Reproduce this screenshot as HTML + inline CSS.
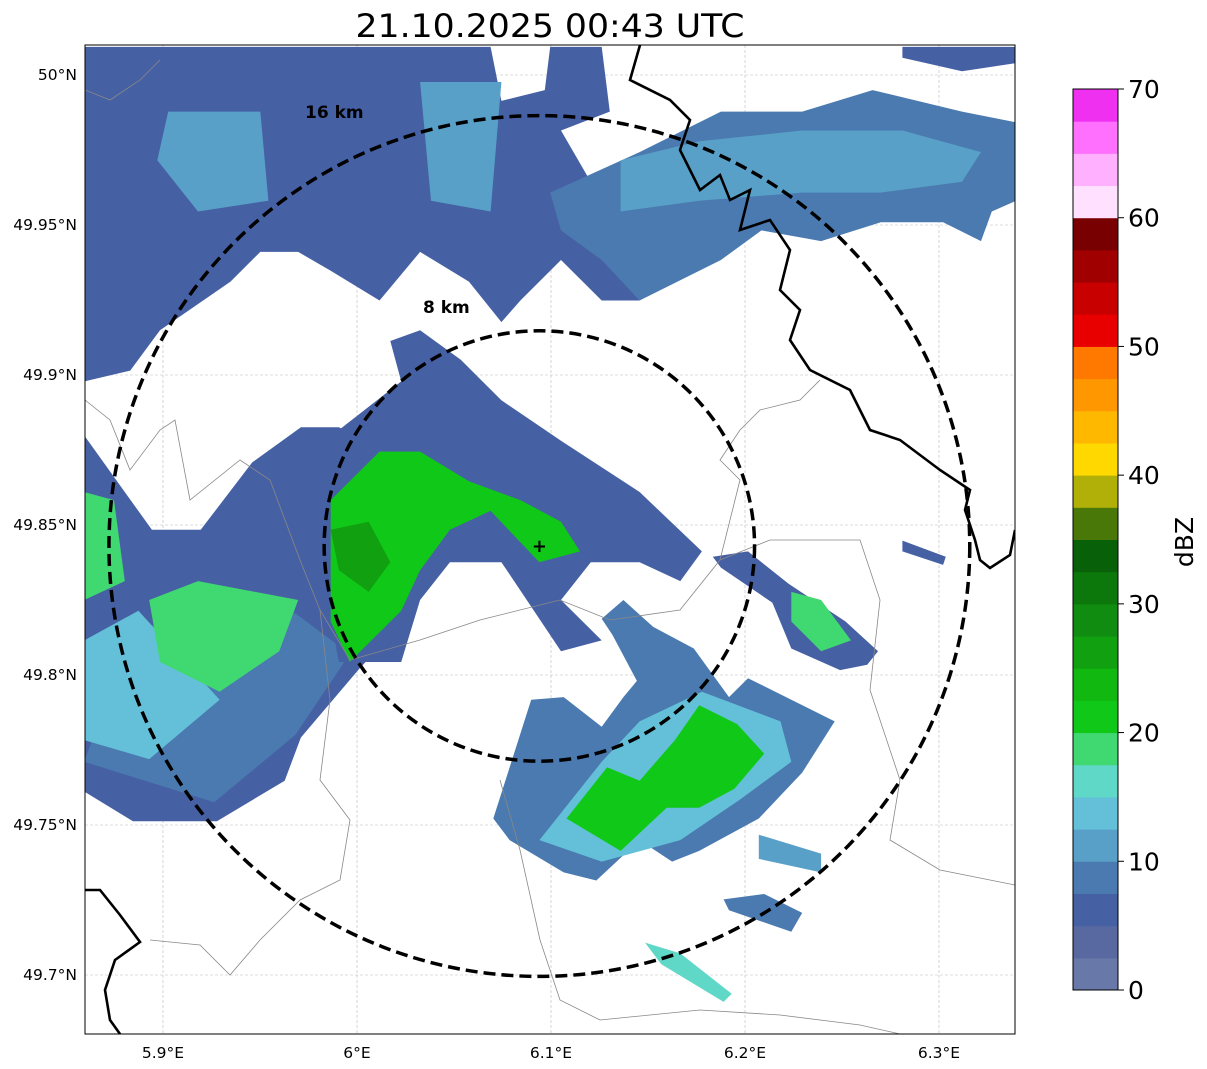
<!DOCTYPE html>
<html><head><meta charset="utf-8"><style>
body{margin:0;background:#fff;font-family:"DejaVu Sans","Liberation Sans",sans-serif}
svg{display:block}
</style></head><body>
<svg id="fig" width="1207" height="1069" xmlns="http://www.w3.org/2000/svg">
<text x="550" y="37" font-size="32" text-anchor="middle" textLength="389" lengthAdjust="spacingAndGlyphs">21.10.2025 00:43 UTC</text>
<defs><clipPath id="mapclip"><rect x="85" y="45" width="930" height="989"/></clipPath></defs>
<g id="map" clip-path="url(#mapclip)">
<g id="grid"></g>
<g id="echoes"></g>
<g id="borders" fill="none">
<path d="M85,400 L110,420 L130,470 L160,430 L175,420 L190,500 L240,460 L270,480 L300,560 L320,610 L350,660 L420,640 L480,620 L560,600 L610,620 L680,610 L720,560 L770,540" stroke="#888" stroke-width="0.8"/>
<path d="M720,560 L740,480 L720,460 L740,430 L760,410 L800,400 L820,380" stroke="#888" stroke-width="0.8"/>
<path d="M320,610 L330,700 L320,780 L350,820 L340,880 L300,900 L260,940 L230,975 L200,945 L150,940" stroke="#888" stroke-width="0.8"/>
<path d="M500,780 L520,850 L540,940 L560,1000 L600,1020 L700,1010 L780,1015 L860,1025 L900,1034" stroke="#888" stroke-width="0.8"/>
<path d="M770,540 L860,540 L880,600 L870,690 L900,780 L890,840 L940,870 L1015,885" stroke="#888" stroke-width="0.8"/>
<path d="M85,90 L110,100 L140,80 L160,60" stroke="#888" stroke-width="0.8"/>
<path d="M640,45 L630,80 L670,100 L690,120 L680,150 L700,190 L720,175 L730,200 L750,190 L740,230 L770,220 L790,250 L780,290 L800,310 L790,340 L810,370 L850,390 L870,430 L900,440 L940,470 L970,490 L965,510 L975,540 L980,560 L990,568 L1010,555 L1015,530" stroke="#000" stroke-width="2.6"/>
<path d="M85,890 L100,890 L120,915 L140,942 L115,960 L105,990 L110,1020 L120,1034" stroke="#000" stroke-width="2.6"/>
</g>
<g id="rings"></g>
</g>
<rect x="85" y="45" width="930" height="989" fill="none" stroke="#000" stroke-width="1"/>
<g id="axes" font-size="15.5"></g>
<g id="cbar"></g>
<text transform="translate(1193,542) rotate(-90)" font-size="25" text-anchor="middle">dBZ</text>
</svg>
<script>
const NS="http://www.w3.org/2000/svg";
// data
const lonTicks=[5.9,6.0,6.1,6.2,6.3];
const lonLabels=["5.9°E","6°E","6.1°E","6.2°E","6.3°E"];
const latTicks=[50.0,49.95,49.9,49.85,49.8,49.75,49.7];
const latLabels=["50°N","49.95°N","49.9°N","49.85°N","49.8°N","49.75°N","49.7°N"];
const cbTicks=[0,10,20,30,40,50,60,70];
const cbColors=["#6878a8","#5868a0","#4660a4","#4a7ab0","#58a0c8","#64c0d8","#60d8c8","#40d870","#10c818","#10b810","#10a010","#108c10","#0c780c","#086008","#4a7808","#b0b008","#ffd800","#ffb800","#ff9800","#ff7800","#e80000","#c80000","#a00000","#780000","#ffe0ff","#ffb0ff","#ff70ff","#f030f0"];
const radarLon=6.094, radarLat=49.843;
const ringKm=[8,16];
// echo regions: vertices as [km east, km north] of the radar, with reflectivity (dBZ)
const echoDbz=[6,6,8,6,8,6,11,11,12,13,19,19,20,27,8,7,13,21,18,10,8,15,6];
const echoPolys=[
 [[-16.8,18.5],[-1.8,18.5],[-1.4,16.5],[0.2,16.9],[0.4,18.5],[2.3,18.5],[2.6,16.1],[0.8,15.4],[2.3,12.8],[3.7,9.1],[2.3,9.1],[0.8,10.6],[-0.7,9.1],[-1.4,8.3],[-2.6,9.8],[-4.4,10.9],[-5.9,9.1],[-7.7,10.2],[-8.9,10.9],[-10.3,10.9],[-11.4,9.8],[-14.0,8.0],[-15.1,6.5],[-16.8,6.1]],
 [[13.4,18.5],[17.6,18.5],[17.6,17.9],[15.6,17.6],[13.4,18.1]],
 [[0.4,13.1],[3.7,14.6],[6.7,16.1],[9.7,16.1],[12.3,16.9],[15.6,16.1],[17.6,15.7],[17.6,12.8],[16.7,12.4],[16.3,11.3],[14.9,12.0],[12.6,12.0],[10.4,11.3],[8.2,11.7],[6.7,10.6],[3.7,9.1],[2.3,10.6],[0.8,11.7]],
 [[-16.8,4.1],[-14.3,0.6],[-12.5,0.6],[-10.6,3.1],[-8.8,4.4],[-7.4,4.4],[-4.4,2.8],[-5.0,-2.8],[-6.6,-4.5],[-8.8,-7.1],[-9.4,-8.7],[-11.9,-10.2],[-15.0,-10.2],[-16.8,-9.1]],
 [[-15.0,-3.0],[-9.0,-2.5],[-7.0,-4.0],[-9.0,-7.0],[-12.0,-9.5],[-16.8,-8.0]],
 [[-7.4,4.3],[-5.1,6.1],[-5.5,7.6],[-4.4,8.0],[-2.9,6.9],[-1.4,5.4],[0.8,3.9],[3.7,2.0],[6.0,-0.2],[5.2,-1.3],[3.7,-0.6],[1.9,-0.6],[0.8,-2.0],[2.3,-3.5],[0.8,-3.9],[-1.4,-0.6],[-3.3,-0.6],[-4.4,-2.0],[-5.1,-4.3],[-7.4,-4.3],[-8.1,-0.6]],
 [[3.0,14.3],[5.9,15.0],[9.7,15.4],[13.4,15.4],[16.3,14.6],[15.6,13.5],[12.6,13.1],[9.7,13.1],[5.9,12.8],[3.0,12.4]],
 [[-4.4,17.2],[-1.4,17.2],[-1.8,12.4],[-4.0,12.8]],
 [[-13.7,16.1],[-10.3,16.1],[-10.0,12.8],[-12.6,12.4],[-14.1,14.3]],
 [[-16.8,-3.5],[-14.8,-2.4],[-11.8,-5.7],[-14.4,-7.9],[-16.8,-7.2]],
 [[-14.4,-2.0],[-12.6,-1.3],[-8.9,-2.0],[-9.6,-3.9],[-11.8,-5.4],[-14.0,-4.3]],
 [[-16.8,2.0],[-15.7,1.7],[-15.3,-1.3],[-16.8,-2.0]],
 [[-7.7,1.7],[-5.9,3.5],[-4.4,3.5],[-2.6,2.4],[-0.7,1.7],[0.8,0.9],[1.5,-0.2],[0,-0.6],[-1.8,1.3],[-3.3,0.6],[-4.4,-0.9],[-5.1,-2.4],[-7.0,-4.3],[-7.7,-2.8]],
 [[-7.7,0.6],[-6.3,0.9],[-5.5,-0.6],[-6.3,-1.7],[-7.4,-0.9]],
 [[-1.7,-10.1],[-0.3,-5.7],[0.9,-5.6],[2.3,-6.7],[3.1,-5.6],[3.6,-5.0],[2.7,-3.3],[2.3,-2.7],[3.1,-2.0],[4.2,-3.0],[5.7,-3.8],[7.0,-5.6],[7.7,-4.9],[10.9,-6.5],[9.7,-8.4],[8.1,-10.1],[5.9,-11.3],[4.9,-11.7],[3.7,-10.9],[2.1,-12.4],[0.9,-12.1],[-1.1,-10.9]],
 [[6.4,-0.4],[7.7,-0.2],[9.2,-1.4],[11.3,-2.8],[12.5,-3.9],[12.1,-4.4],[11.1,-4.6],[9.3,-3.8],[8.6,-2.1],[6.7,-0.8]],
 [[2.3,-8.0],[3.7,-6.5],[6.0,-5.4],[8.9,-6.5],[9.3,-8.0],[7.4,-9.4],[5.2,-10.9],[2.3,-11.7],[0,-10.9]],
 [[3.7,-8.7],[5.0,-7.2],[5.9,-5.9],[7.3,-6.6],[8.3,-7.7],[7.2,-9.0],[5.9,-9.7],[4.7,-9.7],[3.0,-11.3],[1.0,-10.1],[2.5,-8.2]],
 [[9.3,-1.7],[10.4,-2.0],[11.5,-3.5],[10.4,-3.9],[9.3,-2.8]],
 [[8.1,-10.7],[10.4,-11.4],[10.4,-12.1],[8.1,-11.6]],
 [[6.8,-13.1],[8.3,-12.9],[9.7,-13.6],[9.3,-14.3],[7.0,-13.5]],
 [[3.9,-14.7],[5.2,-15.1],[7.1,-16.6],[6.8,-16.9],[4.5,-15.5]],
 [[13.4,0.2],[15.0,-0.4],[14.9,-0.7],[13.4,-0.2]]
];

const X=lon=>357+(lon-6.0)*1940;
const Y=lat=>525-(lat-49.85)*3000;
const kmLon=e=>radarLon+e/71.6;
const kmLat=n=>radarLat+n/111.2;
const KM=26.9;
function colorFor(d){return cbColors[Math.max(0,Math.min(27,Math.floor(d/2.5)))];}

const grid=document.getElementById('grid');
lonTicks.forEach(v=>{const l=document.createElementNS(NS,'line');


l.setAttribute('x1',X(v));l.setAttribute('x2',X(v));l.setAttribute('y1',45);l.setAttribute('y2',1034);
l.setAttribute('stroke','#bbb');l.setAttribute('stroke-width','0.6');l.setAttribute('stroke-dasharray','3,2');grid.appendChild(l);});
latTicks.forEach(v=>{const l=document.createElementNS(NS,'line');


l.setAttribute('y1',Y(v));l.setAttribute('y2',Y(v));l.setAttribute('x1',85);l.setAttribute('x2',1015);
l.setAttribute('stroke','#bbb');l.setAttribute('stroke-width','0.6');l.setAttribute('stroke-dasharray','3,2');grid.appendChild(l);});

const ech=document.getElementById('echoes');
echoPolys.forEach((poly,i)=>{
 const p=document.createElementNS(NS,'polygon');
 
 
 p.setAttribute('points',poly.map(v=>X(kmLon(v[0])).toFixed(1)+','+Y(kmLat(v[1])).toFixed(1)).join(' '));
 p.setAttribute('fill',colorFor(echoDbz[i]));
 ech.appendChild(p);
});

const rings=document.getElementById('rings');
const rx=X(radarLon),ry=Y(radarLat);
const labelPos=[[423,313],[305,118]];
ringKm.forEach((k,i)=>{const c=document.createElementNS(NS,'circle');
 
 
 c.setAttribute('cx',rx);c.setAttribute('cy',ry);c.setAttribute('r',k*KM);
 c.setAttribute('fill','none');c.setAttribute('stroke','#000');c.setAttribute('stroke-width','3.5');c.setAttribute('stroke-dasharray','12,6');rings.appendChild(c);
 const t=document.createElementNS(NS,'text');
 
 
 t.setAttribute('x',labelPos[i][0]);t.setAttribute('y',labelPos[i][1]);
 t.setAttribute('font-size','17');t.setAttribute('font-weight','bold');t.textContent=k+' km';rings.appendChild(t);});
const pl=document.createElementNS(NS,'text');


pl.setAttribute('x',rx);pl.setAttribute('y',ry+6);pl.setAttribute('text-anchor','middle');pl.setAttribute('font-size','18');pl.setAttribute('font-weight','bold');pl.textContent='+';rings.appendChild(pl);

const axes=document.getElementById('axes');
lonTicks.forEach((v,i)=>{const t=document.createElementNS(NS,'text');
 
 
 t.setAttribute('x',X(v));t.setAttribute('y',1058);t.setAttribute('text-anchor','middle');t.textContent=lonLabels[i];axes.appendChild(t);});
latTicks.forEach((v,i)=>{const t=document.createElementNS(NS,'text');
 
 
 t.setAttribute('x',77);t.setAttribute('y',Y(v)+5);t.setAttribute('text-anchor','end');t.textContent=latLabels[i];axes.appendChild(t);});

const cb=document.getElementById('cbar');
const cbY=v=>990-v*(901/70);
cbColors.forEach((c,i)=>{const r=document.createElementNS(NS,'rect');
 
 
 r.setAttribute('x',1073);r.setAttribute('width',45);r.setAttribute('y',cbY((i+1)*2.5));r.setAttribute('height',901/28+0.5);r.setAttribute('fill',c);cb.appendChild(r);});
const fr=document.createElementNS(NS,'rect');


fr.setAttribute('x',1073);fr.setAttribute('y',89);fr.setAttribute('width',45);fr.setAttribute('height',901);fr.setAttribute('fill','none');fr.setAttribute('stroke','#000');cb.appendChild(fr);
cbTicks.forEach(v=>{const l=document.createElementNS(NS,'line');
 
 
 l.setAttribute('x1',1118);l.setAttribute('x2',1124);l.setAttribute('y1',cbY(v));l.setAttribute('y2',cbY(v));l.setAttribute('stroke','#000');cb.appendChild(l);
 const t=document.createElementNS(NS,'text');
 
 
 t.setAttribute('x',1128);t.setAttribute('y',cbY(v)+9);t.setAttribute('font-size','25');t.textContent=v;cb.appendChild(t);});
</script>
</body></html>
